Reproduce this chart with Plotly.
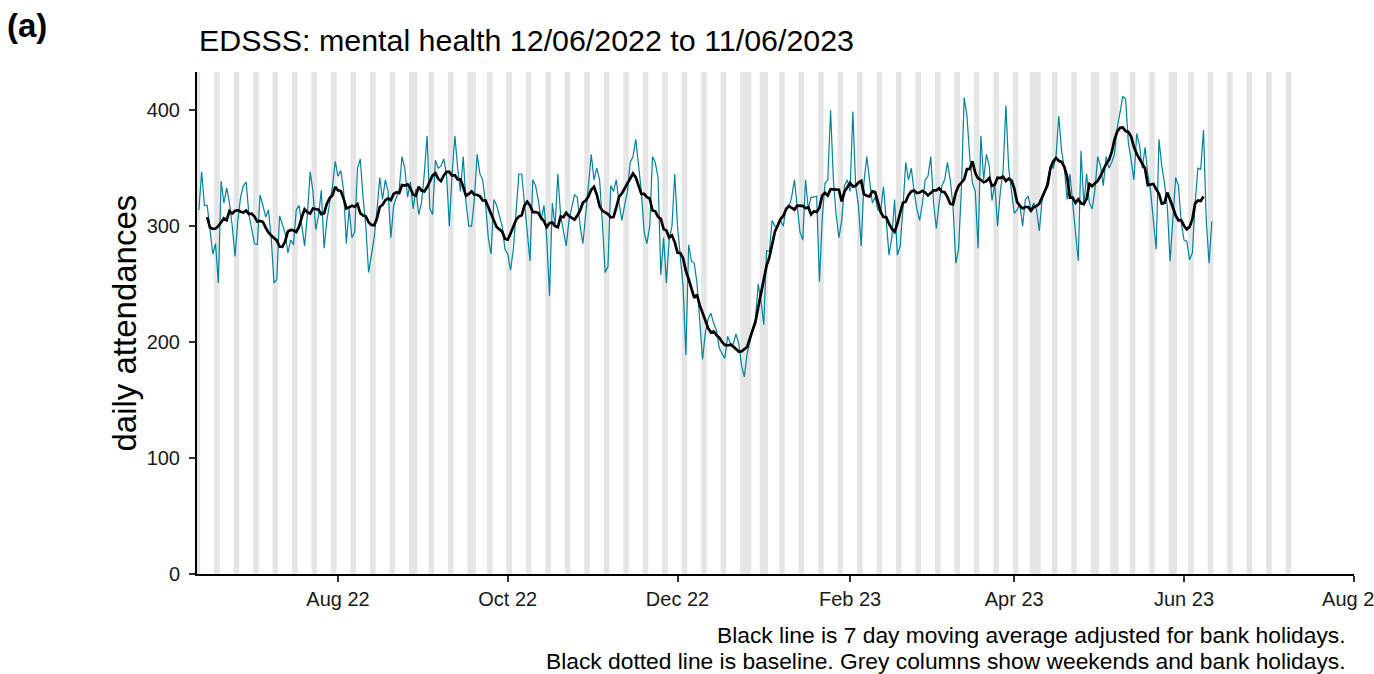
import pandas as pd
import plotly.graph_objects as go

# Daily emergency department attendances for mental health, 12 Jun 2022 - 11 Jun 2023
jun22 = [314, 347, 318, 318, 297, 276, 285, 251, 339, 320, 333, 320, 300, 274, 305, 325, 335, 338, 310]
jul22 = [296, 285, 284, 327, 318, 308, 314, 290, 251, 254, 309, 302, 294, 277, 288, 284, 314, 318, 300, 283,
         310, 347, 330, 297, 309, 331, 281, 305, 320, 334, 356]
aug22 = [343, 348, 331, 285, 315, 290, 295, 350, 358, 325, 300, 260, 277, 290, 314, 342, 323, 340, 330, 290,
         318, 325, 332, 360, 350, 325, 338, 315, 332, 310, 320]
sep22 = [345, 378, 315, 310, 357, 350, 352, 358, 345, 300, 345, 378, 350, 330, 360, 320, 300, 300, 323, 362,
         345, 340, 320, 290, 276, 323, 318, 308, 300, 280]
oct22 = [276, 262, 280, 313, 345, 345, 318, 295, 270, 340, 335, 322, 305, 318, 290, 240, 320, 300, 345, 309,
         297, 283, 305, 315, 327, 325, 300, 285, 308, 335, 362]
nov22 = [340, 350, 340, 303, 260, 265, 335, 330, 340, 320, 305, 318, 330, 355, 360, 375, 350, 330, 295, 285,
         300, 360, 355, 342, 258, 290, 251, 288, 300, 345]
dec22 = [300, 271, 248, 189, 284, 270, 268, 251, 220, 185, 208, 220, 225, 216, 210, 195, 190, 186, 205, 199,
         198, 207, 199, 180, 170, 190, 200, 212, 220, 250, 235]
jan23 = [215, 279, 278, 305, 300, 300, 305, 300, 316, 316, 325, 340, 320, 295, 288, 340, 315, 325, 325, 326,
         252, 306, 337, 340, 400, 340, 310, 290, 305, 335, 340]
feb23 = [330, 399, 335, 318, 283, 338, 360, 340, 320, 325, 314, 313, 334, 305, 275, 290, 323, 275, 283, 315,
         355, 340, 350, 330, 315, 305, 320, 340]
mar23 = [343, 360, 320, 298, 320, 335, 340, 355, 340, 317, 268, 280, 332, 411, 395, 360, 337, 330, 281, 378,
         340, 362, 352, 322, 337, 300, 330, 348, 404, 350, 330]
apr23 = [311, 314, 319, 300, 323, 326, 314, 320, 314, 296, 323, 329, 340, 352, 350, 360, 395, 365, 350, 323,
         345, 320, 300, 270, 365, 318, 345, 320, 315, 332]
may23 = [360, 352, 335, 360, 350, 355, 362, 385, 398, 412, 410, 372, 357, 340, 380, 370, 350, 368, 345, 330,
         305, 280, 375, 352, 337, 317, 270, 310, 342, 335, 303]
jun23 = [288, 287, 271, 277, 320, 350, 349, 383, 305, 268, 304]

bank_holidays = ["2022-08-29", "2022-09-19", "2022-12-26", "2022-12-27", "2023-01-02",
                 "2023-04-07", "2023-04-10", "2023-05-01", "2023-05-08", "2023-05-29"]

x_ticks = ["2022-08-01", "2022-10-01", "2022-12-01", "2023-02-01", "2023-04-01", "2023-06-01", "2023-08-01"]
y_ticks = [0, 100, 200, 300, 400]

daily = jun22 + jul22 + aug22 + sep22 + oct22 + nov22 + dec22 + jan23 + feb23 + mar23 + apr23 + may23 + jun23
dates = pd.date_range("2022-06-12", periods=len(daily), freq="D")
series = pd.Series(daily, index=dates, dtype=float)
moving_avg = series.rolling(7, center=True).mean()

# grey columns: weekends and bank holidays, merged into runs of consecutive days
calendar = pd.date_range("2022-06-11", "2023-07-09", freq="D")
bh = set(pd.to_datetime(bank_holidays))
off = [d for d in calendar if d.weekday() >= 5 or d in bh]
runs = []
for d in off:
    if runs and (d - runs[-1][1]).days == 1:
        runs[-1][1] = d
    else:
        runs.append([d, d])

half = pd.Timedelta(hours=12)
shapes = [dict(type="rect", xref="x", yref="paper", x0=a - half, x1=b + half, y0=0, y1=1,
               fillcolor="#E5E5E5", line=dict(width=0), layer="below") for a, b in runs]

fig = go.Figure()
fig.add_trace(go.Scatter(x=dates, y=series, mode="lines",
                         line=dict(color="#00839D", width=1.2), hoverinfo="x+y", showlegend=False))
fig.add_trace(go.Scatter(x=dates, y=moving_avg, mode="lines",
                         line=dict(color="#000000", width=2.7), hoverinfo="x+y", showlegend=False))

FONT = "Liberation Sans, Arial, sans-serif"
fig.update_layout(
    width=1374, height=674,
    margin=dict(l=197, r=20, t=72, b=100, autoexpand=False),
    paper_bgcolor="white", plot_bgcolor="white",
    font=dict(family=FONT, color="#000000"),
    shapes=shapes,
    xaxis=dict(type="date", range=["2022-06-11 08:00", "2023-08-01 02:00"],
               tickvals=x_ticks, tickformat="%b %y", ticklabeloverflow="allow",
               automargin=False,
               ticks="outside", ticklen=6, tickwidth=2, tickcolor="#333333",
               showline=True, linecolor="#000000", linewidth=2,
               showgrid=False, zeroline=False,
               tickfont=dict(size=20, color="#1a1a1a", family=FONT)),
    yaxis=dict(range=[0, 433], tickvals=y_ticks, automargin=False,
               ticks="outside", ticklen=6, tickwidth=2, tickcolor="#333333",
               showline=True, linecolor="#000000", linewidth=2,
               showgrid=False, zeroline=False, ticklabelstandoff=5,
               tickfont=dict(size=20, color="#1a1a1a", family=FONT)),
    annotations=[
        dict(text="<b>(a)</b>", xref="paper", yref="paper", x=-0.1465, y=1.0936,
             xanchor="center", yanchor="middle", showarrow=False,
             font=dict(size=33, family=FONT, color="#000000")),
        dict(text="EDSSS: mental health 12/06/2022 to 11/06/2023", xref="paper", yref="paper",
             x=0.0, y=1.0637, xanchor="left", yanchor="middle", showarrow=False,
             font=dict(size=30.4, family=FONT, color="#000000")),
        dict(text="daily attendances", xref="paper", yref="paper", x=-0.0635, y=0.5,
             xanchor="center", yanchor="middle", showarrow=False, textangle=-90,
             font=dict(size=33, family=FONT, color="#000000")),
        dict(text="Black line is 7 day moving average adjusted for bank holidays.",
             xref="paper", yref="paper", x=0.9948, y=-0.1215, xanchor="right", yanchor="middle",
             showarrow=False, font=dict(size=22.8, family=FONT, color="#000000")),
        dict(text="Black dotted line is baseline. Grey columns show weekends and bank holidays.",
             xref="paper", yref="paper", x=0.9948, y=-0.1725, xanchor="right", yanchor="middle",
             showarrow=False, font=dict(size=22.8, family=FONT, color="#000000")),
    ],
)

fig.write_html("out.html")
